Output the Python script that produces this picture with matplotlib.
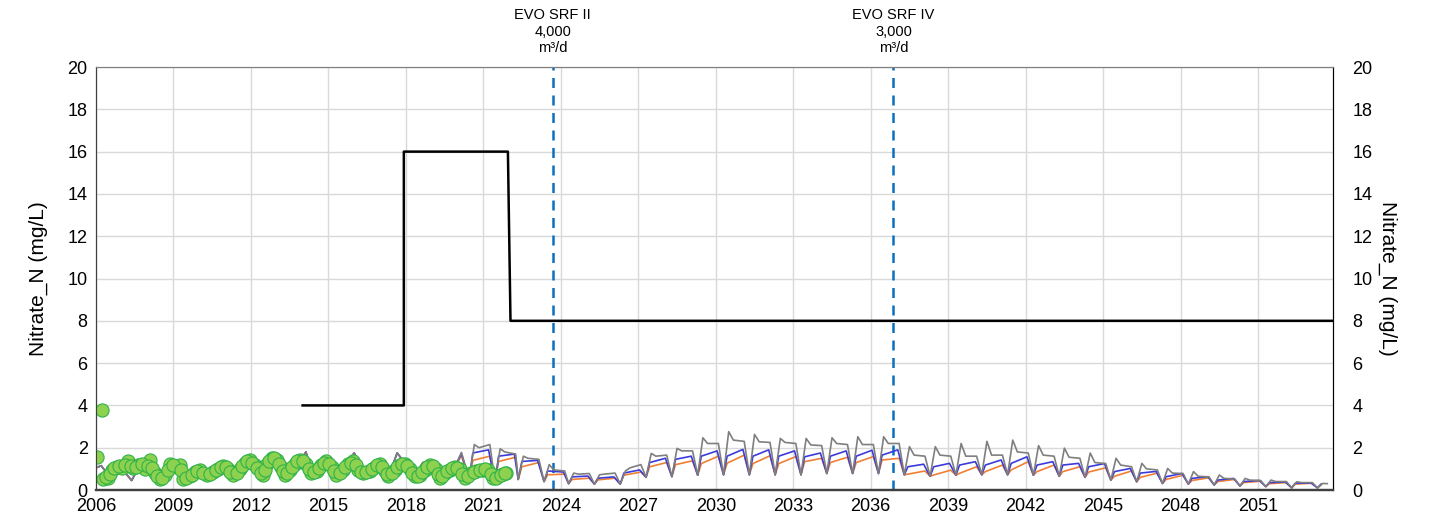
import matplotlib
matplotlib.use("Agg")
import matplotlib.pyplot as plt

plt.rcParams["font.family"] = ["Liberation Sans", "DejaVu Sans"]

# observed nitrate (green dots): decimal year, mg/L
obs_t = [2006.03, 2006.22, 2006.28, 2006.48, 2006.61, 2006.8, 2007.0, 2007.25, 2007.44,
         2007.64, 2007.9, 2008.09, 2008.28, 2008.47, 2008.67, 2008.86, 2009.12, 2009.25,
         2009.38, 2009.64, 2009.83, 2010.02, 2010.28, 2010.54, 2010.73, 2010.93, 2011.12,
         2011.31, 2011.57, 2011.76, 2011.96, 2012.15, 2012.34, 2012.47, 2012.6, 2012.8,
         2012.99, 2013.18, 2013.31, 2013.5, 2013.7, 2013.89, 2014.15, 2014.34, 2014.54,
         2014.73, 2014.92, 2015.12, 2015.31, 2015.57, 2015.76, 2015.96, 2016.15, 2016.34,
         2016.6, 2016.79, 2016.99, 2017.18, 2017.31, 2017.57, 2017.76, 2017.95, 2018.15,
         2018.34, 2018.54, 2018.73, 2018.92, 2019.18, 2019.31, 2019.5, 2019.7, 2019.89,
         2020.08, 2020.28, 2020.53, 2020.73, 2020.99, 2021.18, 2021.38, 2021.57, 2021.76,
         2021.89]
obs_v = [1.55, 3.8, 0.5, 0.55, 0.95, 1.1, 1.05, 1.35, 1.05,
         1.2, 1.0, 1.4, 0.8, 0.5, 0.7, 1.25, 1.1, 1.2,
         0.5, 0.65, 0.85, 0.95, 0.7, 0.85, 1.0, 1.15, 1.0,
         0.7, 1.0, 1.3, 1.4, 1.2, 0.95, 0.7, 1.2, 1.5,
         1.4, 1.1, 0.7, 0.95, 1.25, 1.4, 1.25, 0.8, 0.9,
         1.2, 1.35, 1.1, 0.7, 0.95, 1.25, 1.35, 0.95, 0.8,
         0.9, 1.1, 1.25, 0.9, 0.65, 0.95, 1.2, 1.25, 1.0,
         0.65, 0.7, 0.95, 1.2, 1.0, 0.55, 0.8, 0.95, 1.1,
         1.0, 0.55, 0.8, 0.9, 0.95, 0.95, 0.55, 0.65, 0.75,
         0.8]
# further samples in between
obs_t2 = [2006.38, 2006.55, 2006.7, 2006.9, 2007.12, 2007.35, 2007.54, 2007.77, 2008.0,
          2008.18, 2008.37, 2008.57, 2008.77, 2008.98, 2009.3, 2009.5, 2009.73, 2009.92,
          2010.15, 2010.4, 2010.63, 2010.83, 2011.02, 2011.2, 2011.45, 2011.66, 2011.86,
          2012.05, 2012.25, 2012.4, 2012.53, 2012.7, 2012.9, 2013.08, 2013.25, 2013.4,
          2013.6, 2013.8, 2014.0, 2014.25, 2014.45, 2014.63, 2014.83, 2015.02, 2015.2,
          2015.45, 2015.66, 2015.86, 2016.05, 2016.25, 2016.47, 2016.7, 2016.89, 2017.08,
          2017.25, 2017.45, 2017.67, 2017.85, 2018.05, 2018.25, 2018.45, 2018.63, 2018.82,
          2019.05, 2019.25, 2019.4, 2019.6, 2019.8, 2019.98, 2020.18, 2020.4, 2020.63,
          2020.86, 2021.08, 2021.28, 2021.48, 2021.67, 2021.83]
obs_v2 = [0.6, 0.75, 1.05, 1.15, 1.2, 1.15, 1.1, 1.25, 1.15,
          1.05, 0.65, 0.55, 0.95, 1.2, 0.95, 0.55, 0.7, 0.9,
          0.8, 0.75, 0.95, 1.1, 1.1, 0.85, 0.8, 1.15, 1.35,
          1.3, 1.05, 0.8, 0.95, 1.35, 1.5, 1.25, 0.9, 0.8,
          1.1, 1.35, 1.35, 1.0, 0.85, 1.05, 1.3, 1.25, 0.9,
          0.8, 1.1, 1.3, 1.2, 0.85, 0.85, 1.0, 1.2, 1.1,
          0.75, 0.8, 1.1, 1.25, 1.15, 0.8, 0.65, 0.85, 1.1,
          1.15, 0.75, 0.65, 0.9, 1.05, 1.05, 0.75, 0.65, 0.85,
          0.95, 1.0, 0.75, 0.55, 0.7, 0.8]

# calibrated model before scenarios split (shared by all three runs)
hist_t = [2006.0, 2006.2, 2006.45, 2006.9, 2007.38, 2007.7, 2008.1, 2008.5, 2009.0,
          2009.4, 2010.0, 2010.9, 2011.38, 2012.0, 2012.45, 2013.0, 2013.35, 2013.9,
          2014.13, 2014.35, 2015.0, 2015.35, 2016.0, 2016.35, 2017.0, 2017.35, 2017.66,
          2017.95, 2018.35, 2018.66, 2018.9, 2019.33, 2019.9]
hist_v = [1.05, 1.15, 0.75, 1.15, 0.45, 1.2, 1.3, 0.6, 1.2,
          0.55, 0.9, 1.1, 0.5, 1.35, 0.75, 1.65, 0.75, 1.4,
          1.8, 0.85, 1.35, 0.75, 1.75, 0.85, 1.3, 0.7, 1.75,
          1.3, 0.7, 1.3, 1.2, 0.6, 1.1]
split_t = 2020.15
split_gray, split_blue, split_orange = 1.78, 1.72, 1.62

# yearly predictive cycles: start (seasonal low), low value, then levels per run
cyc_start = [2020.45, 2021.45, 2022.35, 2023.35, 2024.3, 2025.3, 2026.3, 2027.3, 2028.3,
             2029.3, 2030.3, 2031.3, 2032.3, 2033.3, 2034.3, 2035.3, 2036.3, 2037.3,
             2038.3, 2039.3, 2040.3, 2041.3, 2042.3, 2043.3, 2044.3, 2045.3, 2046.3,
             2047.3, 2048.3, 2049.3, 2050.3, 2051.3, 2052.3, 2053.3]
cyc_low = [0.5, 0.4, 0.5, 0.4, 0.3, 0.28, 0.28, 0.6, 0.63,
           0.7, 0.72, 0.72, 0.72, 0.72, 0.78, 0.78, 0.78, 0.72,
           0.65, 0.7, 0.72, 0.72, 0.7, 0.65, 0.6, 0.47, 0.39,
           0.31, 0.28, 0.24, 0.19, 0.16, 0.1, 0.1]
gray_peak = [2.15, 1.95, 1.6, 1.2, 0.8, 0.72, 0.9, 1.73, 1.97,
             2.47, 2.76, 2.63, 2.44, 2.44, 2.47, 2.52, 2.52, 2.05,
             2.05, 2.2, 2.3, 2.36, 2.1, 1.98, 1.75, 1.5, 1.26,
             1.02, 0.87, 0.71, 0.55, 0.47, 0.39, 0.31]
gray_mid = [2.0, 1.8, 1.5, 0.95, 0.75, 0.75, 1.05, 1.6, 1.85,
            2.2, 2.36, 2.28, 2.25, 2.13, 2.2, 2.15, 2.2, 1.65,
            1.65, 1.6, 1.65, 1.8, 1.65, 1.55, 1.3, 1.18, 1.0,
            0.8, 0.65, 0.55, 0.47, 0.4, 0.35, 0.3]
gray_end = [2.15, 1.7, 1.45, 0.9, 0.78, 0.8, 1.2, 1.65, 1.85,
            2.2, 2.3, 2.25, 2.2, 2.1, 2.15, 2.15, 2.2, 1.6,
            1.6, 1.6, 1.65, 1.75, 1.6, 1.5, 1.25, 1.1, 0.95,
            0.78, 0.62, 0.52, 0.45, 0.4, 0.35, 0.3]
blue_a = [1.75, 1.6, 1.35, 0.9, 0.62, 0.56, 0.8, 1.3, 1.45,
          1.6, 1.6, 1.6, 1.6, 1.57, 1.6, 1.6, 1.65, 1.1,
          1.1, 1.18, 1.18, 1.26, 1.18, 1.18, 1.1, 0.87, 0.8,
          0.63, 0.55, 0.47, 0.4, 0.35, 0.32, 0.28]
blue_b = [1.9, 1.7, 1.4, 0.85, 0.66, 0.62, 0.95, 1.5, 1.6,
          1.85, 1.92, 1.9, 1.85, 1.75, 1.85, 1.88, 1.9, 1.22,
          1.26, 1.34, 1.42, 1.57, 1.34, 1.26, 1.25, 1.02, 0.88,
          0.78, 0.63, 0.55, 0.45, 0.38, 0.33, 0.28]
orange_a = [1.4, 1.35, 1.1, 0.72, 0.5, 0.48, 0.7, 1.1, 1.2,
            1.25, 1.27, 1.25, 1.25, 1.34, 1.3, 1.3, 1.42, 0.75,
            0.71, 0.79, 0.87, 0.95, 0.87, 0.87, 0.85, 0.65, 0.6,
            0.5, 0.45, 0.4, 0.35, 0.3, 0.28, 0.25]
orange_b = [1.6, 1.55, 1.3, 0.75, 0.56, 0.56, 0.85, 1.3, 1.38,
            1.6, 1.65, 1.62, 1.58, 1.5, 1.55, 1.58, 1.5, 0.9,
            0.94, 1.1, 1.18, 1.34, 1.18, 1.1, 1.05, 0.9, 0.8,
            0.7, 0.58, 0.5, 0.42, 0.35, 0.32, 0.25]

# regulatory limit steps
limit_t = [2014.0, 2017.92, 2017.92, 2021.95, 2022.05, 2053.9]
limit_v = [4, 4, 16, 16, 8, 8]

# EVO SRF commissioning
srf_t = [2023.68, 2036.88]
srf_text = ["EVO SRF II\n4,000\nm³/d", "EVO SRF IV\n3,000\nm³/d"]

x_end = 2053.9
tick_years = list(range(2006, 2053, 3))


def build(levels, offsets):
    t = list(hist_t) + [split_t]
    v = list(hist_v)
    for i, s in enumerate(cyc_start):
        t.append(s)
        pts = [cyc_low[i]] + [lv[i] for lv in levels]
        n = 0
        for off in offsets:
            if s + off <= x_end:
                t.append(s + off)
                n += 1
        v.extend(pts[:1 + n])
    return t, v


fig = plt.figure(figsize=(14.44, 5.29), dpi=100)
ax = fig.add_axes([0.0665, 0.0737, 0.8566, 0.7996])

gt, gv = build([gray_peak, gray_mid, gray_end], [0.2, 0.38, 0.8])
bt, bv = build([blue_a, blue_b], [0.14, 0.75])
ot, ov = build([orange_a, orange_b], [0.14, 0.8])
gv.insert(len(hist_v), split_gray)
bv.insert(len(hist_v), split_blue)
ov.insert(len(hist_v), split_orange)

ax.plot(ot, ov, color="#f07f33", lw=1.2, zorder=3)
ax.plot(bt, bv, color="#3b3bdc", lw=1.2, zorder=3)
ax.plot(gt, gv, color="#7f7f7f", lw=1.2, zorder=3)

ax.scatter(obs_t + obs_t2, obs_v + obs_v2, s=90, facecolor="#8ed14f",
           edgecolor="#2fb34a", linewidth=0.8, zorder=4)

ax.plot(limit_t, limit_v, color="black", lw=1.8, zorder=5)

for x, txt in zip(srf_t, srf_text):
    ax.axvline(x, color="#0b6fc0", lw=1.8, ls=(0, (4, 3)), zorder=2)
    ax.text(x, 20.55, txt, ha="center", va="bottom", fontsize=10.5, linespacing=1.25)

ax.set_xlim(2006, x_end)
ax.set_ylim(0, 20)
ax.set_xticks(tick_years)
ax.set_xticklabels([str(y) for y in tick_years])
ax.set_yticks(range(0, 21, 2))
ax.grid(True, color="#d9d9d9", lw=1)
ax.set_axisbelow(True)
ax.tick_params(length=0, labelsize=13, pad=6)
ax.set_ylabel("Nitrate_N (mg/L)", fontsize=15, labelpad=14)

ax2 = ax.twinx()
ax2.set_ylim(0, 20)
ax2.set_yticks(range(0, 21, 2))
ax2.tick_params(length=0, labelsize=13, pad=14)
ax2.set_ylabel("Nitrate_N (mg/L)", fontsize=15, rotation=270, labelpad=18)

for a in (ax, ax2):
    a.spines["top"].set_color("#808080")
    a.spines["left"].set_color("#404040")
    a.spines["right"].set_color("black")
    a.spines["bottom"].set_color("#404040")
    a.spines["bottom"].set_linewidth(1.6)

fig.savefig("out.png", dpi=100)
plt.close(fig)
